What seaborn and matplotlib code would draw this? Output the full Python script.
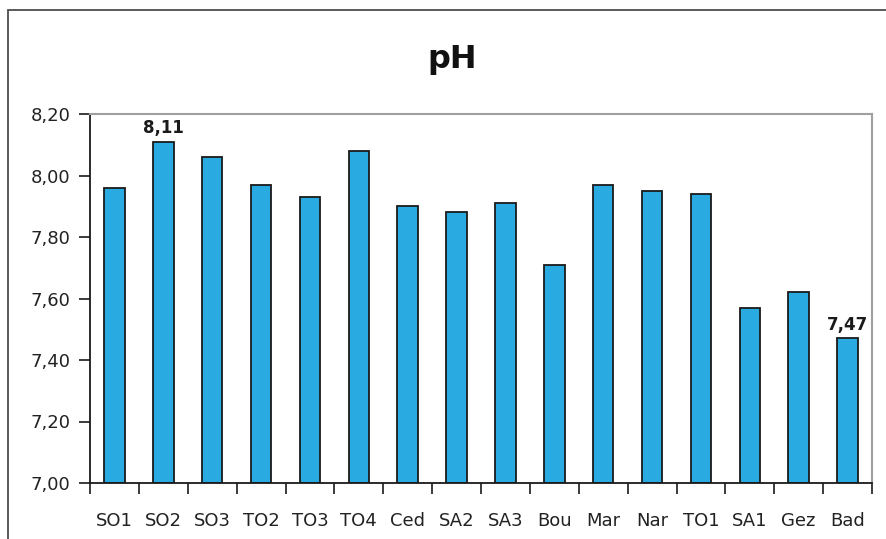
import matplotlib
matplotlib.use('Agg')
import matplotlib.pyplot as plt
import matplotlib.ticker as mticker
import numpy as np
import pandas as pd
import seaborn as sns

# data
sites = ['SO1', 'SO2', 'SO3', 'TO2', 'TO3', 'TO4', 'Ced', 'SA2', 'SA3',
         'Bou', 'Mar', 'Nar', 'TO1', 'SA1', 'Gez', 'Bad']
ph = [7.96, 8.11, 8.06, 7.97, 7.93, 8.08, 7.90, 7.88, 7.91,
      7.71, 7.97, 7.95, 7.94, 7.57, 7.62, 7.47]
labelled = ['SO2', 'Bad']

df = pd.DataFrame({'site': sites, 'ph': ph})

sns.set_style('white')
plt.rcParams['font.family'] = ['DejaVu Sans']

fig = plt.figure(figsize=(8.86, 5.39), dpi=100)
ax = fig.add_axes([90 / 886, 1 - 483 / 539, 782 / 886, 369 / 539])

sns.barplot(data=df, x='site', y='ph', color='#29ABE2', edgecolor='#1a1a1a',
            linewidth=1.3, width=0.42, saturation=1, ax=ax)

# bars start at 7.00 like the excel chart
for p in ax.patches:
    h = p.get_height()
    p.set_y(7.0)
    p.set_height(h - 7.0)

ax.set_ylim(7.0, 8.2)
ax.set_xlim(-0.5, len(sites) - 0.5)
ax.set_yticks(np.arange(7.0, 8.21, 0.2))
ax.yaxis.set_major_formatter(mticker.FuncFormatter(lambda v, _: f'{v:.2f}'.replace('.', ',')))
ax.set_xlabel('')
ax.set_ylabel('')

ax.tick_params(axis='y', which='major', direction='out', length=8, width=1.2,
               color='#1a1a1a', labelsize=13, labelcolor='#222222', pad=6, left=True)
ax.tick_params(axis='x', which='major', length=0, labelsize=13, labelcolor='#222222', pad=21)
ax.set_xticks(np.arange(-0.5, len(sites), 1), minor=True)
ax.tick_params(axis='x', which='minor', direction='out', length=8, width=1.2,
               color='#1a1a1a', bottom=True)

for s in ['left', 'bottom']:
    ax.spines[s].set_color('#1a1a1a')
    ax.spines[s].set_linewidth(1.3)
for s in ['top', 'right']:
    ax.spines[s].set_color('#a0a0a0')
    ax.spines[s].set_linewidth(1.5)

for i, (s, v) in enumerate(zip(sites, ph)):
    if s in labelled:
        ax.text(i, v + 0.015, f'{v:.2f}'.replace('.', ','), ha='center', va='bottom',
                fontsize=12, fontweight='bold', color='#1a1a1a')

fig.text(452 / 886, 1 - 60 / 539, 'pH', ha='center', va='center',
         fontsize=23, fontweight='bold', color='#111111')

# outer chart frame
frame = plt.Rectangle((8 / 886, -0.05), 1.1, 1 - 10 / 539 + 0.05, transform=fig.transFigure,
                      fill=False, edgecolor='#4d4d4d', linewidth=1.3, clip_on=False)
fig.patches.append(frame)

fig.savefig('out.png', dpi=100)
